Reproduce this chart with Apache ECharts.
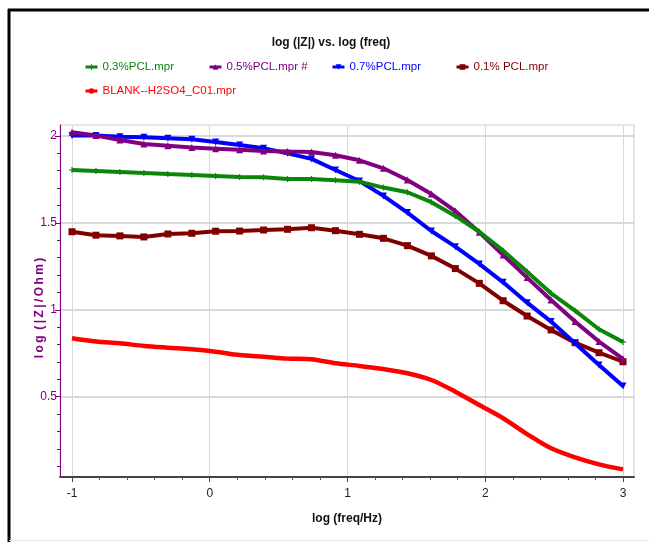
<!DOCTYPE html>
<html>
<head>
<meta charset="utf-8">
<script src="https://cdn.jsdelivr.net/npm/echarts@6/dist/echarts.min.js"></script>
<style>
html,body{margin:0;padding:0;background:#fff;}
#chart{width:649px;height:542px;}
</style>
</head>
<body>
<div id="chart"></div>
<script>
// ---- data ----
const logFreq = [-1.000,-0.826,-0.652,-0.478,-0.304,-0.130,0.043,0.217,0.391,0.565,0.739,0.913,1.087,1.261,1.435,1.609,1.783,1.957,2.130,2.304,2.478,2.652,2.826,3.000];
const pcl03 = [1.804,1.799,1.793,1.787,1.781,1.776,1.770,1.764,1.762,1.753,1.753,1.745,1.737,1.703,1.676,1.619,1.540,1.449,1.340,1.219,1.095,0.995,0.888,0.815];
const pcl05 = [2.021,2.002,1.977,1.954,1.944,1.933,1.927,1.921,1.914,1.910,1.908,1.889,1.860,1.814,1.747,1.666,1.568,1.446,1.315,1.185,1.056,0.932,0.817,0.717];
const pcl07 = [2.002,2.002,1.996,1.992,1.987,1.981,1.965,1.948,1.929,1.900,1.868,1.804,1.741,1.655,1.559,1.453,1.363,1.264,1.158,1.041,0.932,0.807,0.682,0.562];
const pcl01 = [1.449,1.429,1.425,1.419,1.436,1.440,1.452,1.453,1.459,1.463,1.472,1.455,1.434,1.411,1.369,1.310,1.237,1.152,1.052,0.964,0.884,0.811,0.753,0.701];
const blank = [0.836,0.817,0.807,0.792,0.782,0.773,0.759,0.740,0.730,0.719,0.715,0.692,0.677,0.659,0.635,0.596,0.529,0.452,0.376,0.285,0.203,0.151,0.111,0.082];

const seriesNames = ['0.3%PCL.mpr','0.5%PCL.mpr #','0.7%PCL.mpr','0.1% PCL.mpr','BLANK--H2SO4_C01.mpr'];
const xMajorTicks = [-1,0,1,2,3];
const xMinorTicks = [-0.8,-0.6,-0.4,-0.2,0.2,0.4,0.6,0.8,1.2,1.4,1.6,1.8,2.2,2.4,2.6,2.8];
const yMajorTicks = [0.5,1,1.5,2];
const yMinorTicks = [0.1,0.2,0.3,0.4,0.6,0.7,0.8,0.9,1.1,1.2,1.3,1.4,1.6,1.7,1.8,1.9,2.0];

const FONT = "'Liberation Sans',Arial,sans-serif";
const colors = ['#0a870a','#800080','#0000ff','#800000','#ff0000'];
const symbols = [
  'path://M4,0 L6,0 L6,4 L10,4 L10,6 L6,6 L6,10 L4,10 L4,6 L0,6 L0,4 L4,4 Z',
  'triangle',
  'path://M0,0 L10,0 L5,10 Z',
  'rect',
  'none'
];
const seriesData = [pcl03, pcl05, pcl07, pcl01, blank];

const chart = echarts.init(document.getElementById('chart'));

const series = seriesData.map((vals, i) => ({
  name: seriesNames[i],
  type: 'line',
  data: logFreq.map((x, k) => [x, vals[k]]),
  smooth: i === 4 ? 0.3 : false,
  symbol: symbols[i],
  symbolSize: i === 0 ? 6 : 7,
  showSymbol: i !== 4,
  lineStyle: {color: colors[i], width: i === 4 ? 4.5 : 4},
  itemStyle: {color: colors[i]},
  animation: false,
  z: 10 - i
}));

const legendPos = [[84,61],[208,61],[331,61],[455,61],[84,85]];
const legends = seriesNames.map((n, i) => ({
  data: [{name: n, textStyle: {color: colors[i]}}],
  left: legendPos[i][0], top: legendPos[i][1],
  itemWidth: 12, itemHeight: 7,
  padding: 0,
  lineStyle: {width: 3},
  textStyle: {fontFamily: FONT, fontSize: 11.5, color: colors[i]},
  selectedMode: false
}));

chart.setOption({
  backgroundColor: '#fff',
  animation: false,
  legend: legends,
  grid: {left: 60, right: 15, top: 125, bottom: 65, show: true, borderColor: '#cccccc', borderWidth: 1},
  xAxis: [{
    type: 'value', min: -1.087, max: 3.08,
    name: 'log (freq/Hz)', nameLocation: 'middle', nameGap: 36,
    nameTextStyle: {fontFamily: FONT, fontSize: 12, fontWeight: 'bold', color: '#111'},
    axisLine: {show: true, onZero: false, lineStyle: {color: '#444', width: 2}},
    axisTick: {show: true, customValues: xMajorTicks, length: 5, lineStyle: {color: '#444'}},
    axisLabel: {show: true, customValues: xMajorTicks, formatter: v => String(v), color: '#222', fontFamily: FONT, fontSize: 12, margin: 11},
    splitLine: {show: true, lineStyle: {color: '#d8d8d8', width: 1}}
  }, {
    type: 'value', min: -1.087, max: 3.08, position: 'bottom',
    axisLine: {show: false, onZero: false},
    axisTick: {show: true, customValues: xMinorTicks, length: 3, lineStyle: {color: '#555'}},
    axisLabel: {show: false},
    splitLine: {show: false}
  }],
  yAxis: [{
    type: 'value', min: 0.038, max: 2.063,
    axisLine: {show: true, onZero: false, lineStyle: {color: '#800080', width: 1}},
    axisTick: {show: true, customValues: yMajorTicks, length: 5, lineStyle: {color: '#800080'}},
    axisLabel: {show: true, customValues: yMajorTicks, formatter: v => String(v), color: '#800080', fontFamily: FONT, fontSize: 12, margin: 3},
    splitLine: {show: true, lineStyle: {color: '#cccccc', width: 1.5}}
  }, {
    type: 'value', min: 0.038, max: 2.063, position: 'left',
    axisLine: {show: false, onZero: false},
    axisTick: {show: true, customValues: yMinorTicks, length: 3, lineStyle: {color: '#800080'}},
    axisLabel: {show: false},
    splitLine: {show: false}
  }],
  series: series,
  graphic: [
    {type: 'line', shape: {x1: 8, y1: 10, x2: 649, y2: 10}, style: {stroke: '#000', lineWidth: 3}},
    {type: 'line', shape: {x1: 9, y1: 9, x2: 9, y2: 542}, style: {stroke: '#000', lineWidth: 3}},
    {type: 'line', shape: {x1: 9, y1: 540.5, x2: 649, y2: 540.5}, style: {stroke: '#e6e6e6', lineWidth: 1}},
    {type: 'text', x: 331, y: 43, style: {text: 'log (|Z|) vs. log (freq)', fill: '#111', font: "bold 12px " + FONT, textAlign: 'center', textVerticalAlign: 'middle'}},
    {type: 'text', x: 40, y: 308, rotation: Math.PI / 2, style: {text: 'l\u2009o\u2009g\u2009 (\u2009|\u2009Z\u2009|\u2009/\u2009O\u2009h\u2009m\u2009)', fill: '#800080', font: "bold 12px " + FONT, textAlign: 'center', textVerticalAlign: 'middle'}}
  ]
});
</script>
</body>
</html>
